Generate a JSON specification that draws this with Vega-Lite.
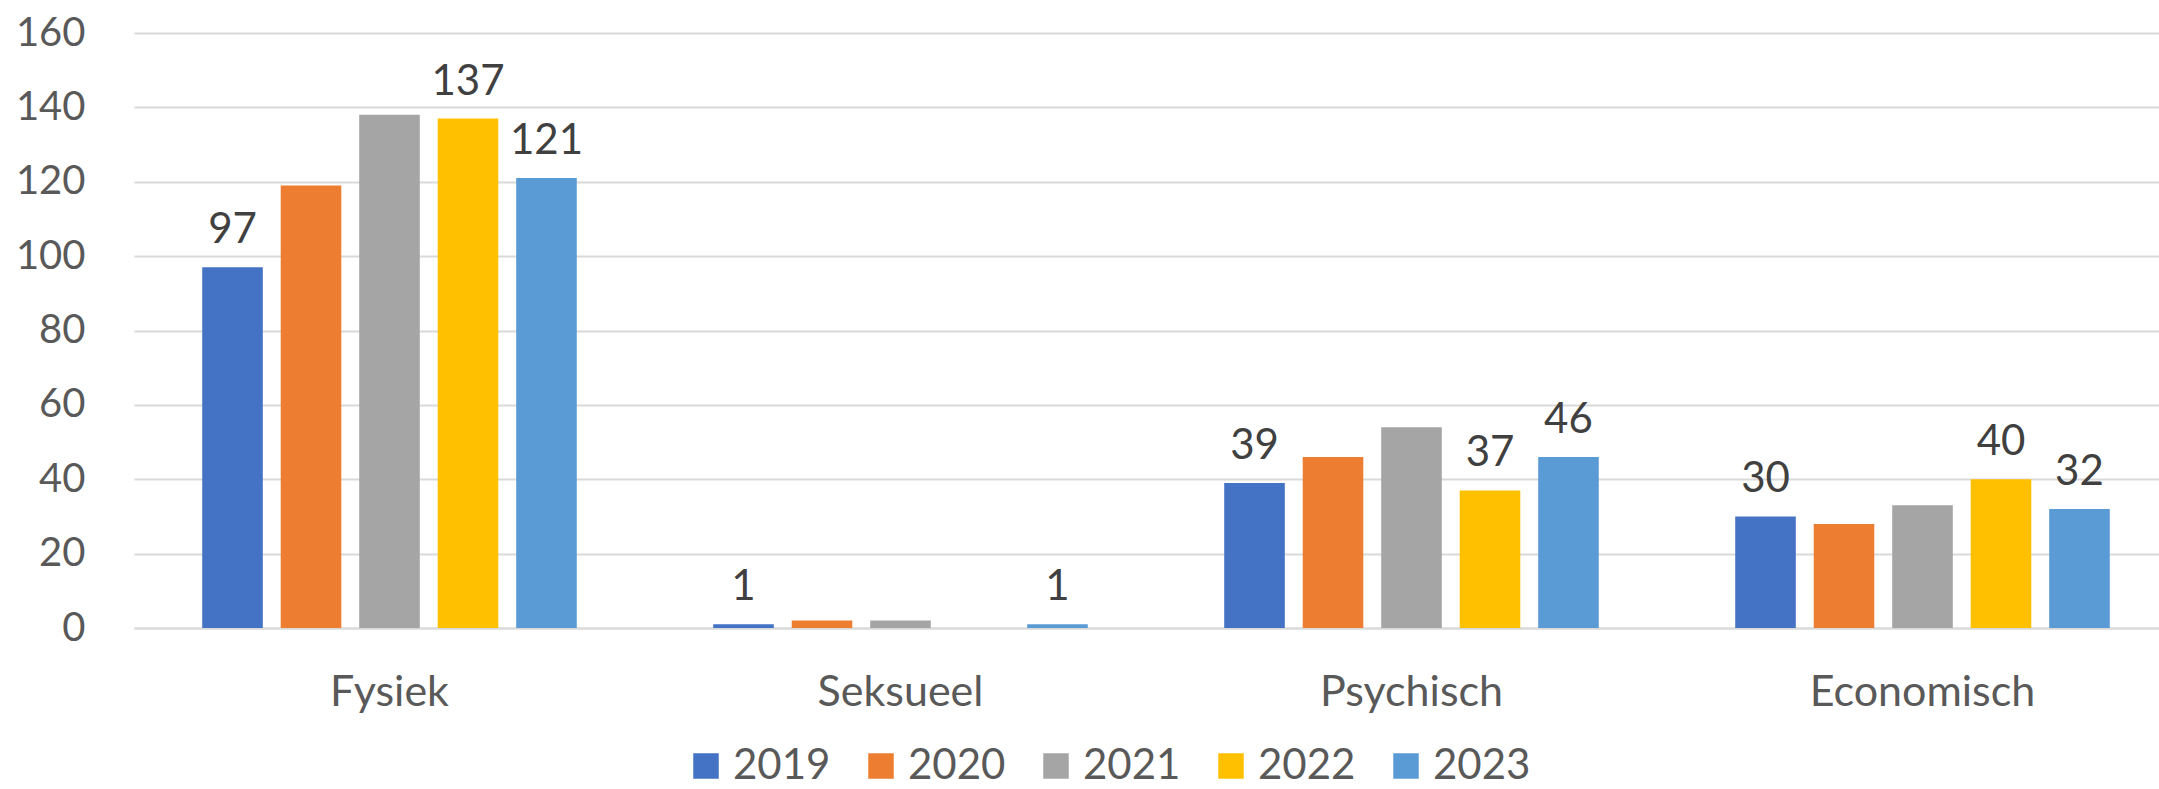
{
  "$schema": "https://vega.github.io/schema/vega-lite/v6.json",
  "autosize": {"type": "none"},
  "width": 2025,
  "height": 595,
  "padding": {"left": 134, "top": 33, "right": 0, "bottom": 161},
  "background": "white",
  "config": {"view": {"stroke": null}, "font": "Lato"},
  "data": {
    "values": [
      {"type": "Fysiek", "year": "2019", "value": 97},
      {"type": "Fysiek", "year": "2020", "value": 119},
      {"type": "Fysiek", "year": "2021", "value": 138},
      {"type": "Fysiek", "year": "2022", "value": 137},
      {"type": "Fysiek", "year": "2023", "value": 121},
      {"type": "Seksueel", "year": "2019", "value": 1},
      {"type": "Seksueel", "year": "2020", "value": 2},
      {"type": "Seksueel", "year": "2021", "value": 2},
      {"type": "Seksueel", "year": "2022", "value": 0},
      {"type": "Seksueel", "year": "2023", "value": 1},
      {"type": "Psychisch", "year": "2019", "value": 39},
      {"type": "Psychisch", "year": "2020", "value": 46},
      {"type": "Psychisch", "year": "2021", "value": 54},
      {"type": "Psychisch", "year": "2022", "value": 37},
      {"type": "Psychisch", "year": "2023", "value": 46},
      {"type": "Economisch", "year": "2019", "value": 30},
      {"type": "Economisch", "year": "2020", "value": 28},
      {"type": "Economisch", "year": "2021", "value": 33},
      {"type": "Economisch", "year": "2022", "value": 40},
      {"type": "Economisch", "year": "2023", "value": 32}
    ]
  },
  "encoding": {
    "x": {
      "field": "type", "type": "nominal",
      "sort": ["Fysiek", "Seksueel", "Psychisch", "Economisch"],
      "scale": {"range": [0, 2044], "paddingInner": 0.267, "paddingOuter": 0.1335},
      "axis": {
        "title": null, "labelAngle": 0, "ticks": false,
        "domain": true, "domainColor": "#d9d9d9", "domainWidth": 2,
        "labelFont": "Lato", "labelFontSize": 43, "labelColor": "#595959",
        "labelBaseline": "alphabetic", "labelPadding": 77, "labelLimit": 0
      }
    },
    "xOffset": {
      "field": "year", "type": "nominal",
      "scale": {"paddingInner": 0.228, "paddingOuter": 0}
    },
    "y": {
      "field": "value", "type": "quantitative",
      "scale": {"domain": [0, 160], "nice": false},
      "axis": {
        "title": null, "values": [0, 20, 40, 60, 80, 100, 120, 140, 160],
        "domain": false, "ticks": false,
        "grid": true, "gridColor": "#d9d9d9", "gridWidth": 2,
        "labelFont": "Lato", "labelFontSize": 40, "labelColor": "#595959",
        "labelPadding": 49
      }
    }
  },
  "layer": [
    {
      "mark": {"type": "bar"},
      "encoding": {
        "color": {
          "field": "year", "type": "nominal",
          "scale": {
            "domain": ["2019", "2020", "2021", "2022", "2023"],
            "range": ["#4472C4", "#ED7D31", "#A5A5A5", "#FFC000", "#5B9BD5"]
          },
          "legend": {
            "title": null, "orient": "none", "legendX": 551, "legendY": 712,
            "direction": "horizontal", "symbolType": "square", "symbolSize": 650,
            "symbolStrokeWidth": 0, "labelFont": "Lato", "labelFontSize": 42,
            "labelColor": "#595959", "labelOffset": 6, "columnPadding": 29,
            "padding": 0
          }
        }
      }
    },
    {
      "transform": [
        {"filter": "indexof(['2019','2022','2023'], datum.year) >= 0 && datum.value > 0"}
      ],
      "mark": {
        "type": "text", "font": "Lato", "fontSize": 42, "color": "#404040",
        "baseline": "alphabetic", "dy": -24
      },
      "encoding": {
        "text": {"field": "value", "type": "quantitative"}
      }
    }
  ]
}
